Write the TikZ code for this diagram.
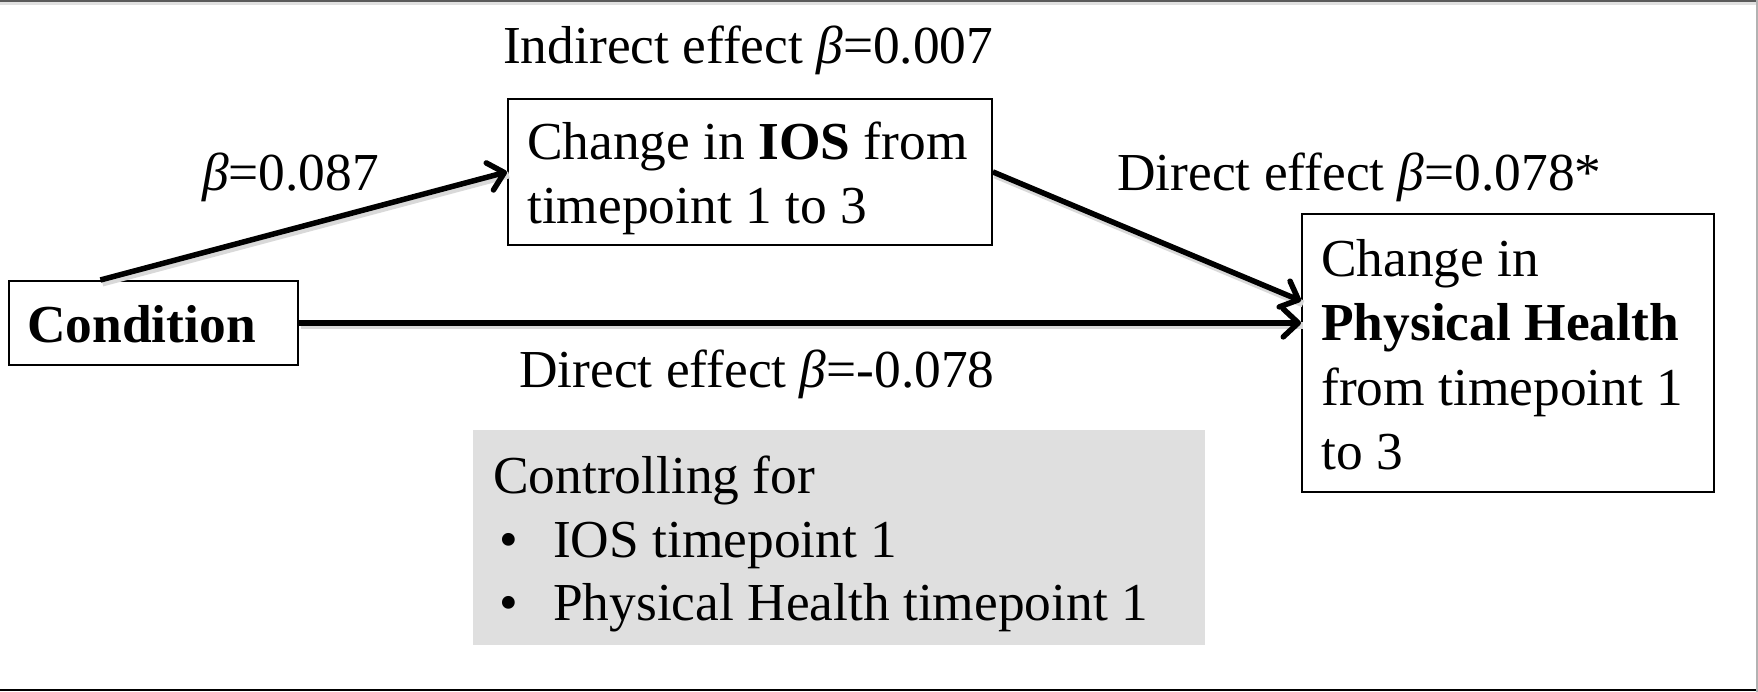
\documentclass[tikz,border=0pt]{standalone}
\usepackage{fontspec}
\setmainfont{Liberation Serif}
\usetikzlibrary{arrows.meta}
\definecolor{panelgray}{RGB}{223,223,223}
\definecolor{rulegray}{RGB}{90,90,90}
\begin{document}
\begin{tikzpicture}[x=1pt,y=-1pt,
  box/.style={draw=black, line width=1.8pt, fill=white, inner sep=0pt},
  txt/.style={anchor=base west, inner sep=0pt, font=\fontsize{53.4}{64}\selectfont},
  arr/.style={line width=5.5pt, -{Straight Barb[length=15pt,width=28pt,round]},
    preaction={draw=black!15, line width=7pt, -, transform canvas={shift={(2pt,-3pt)}}}}]
  \useasboundingbox (0,0) rectangle (1758,692);
  \fill[white] (0,0) rectangle (1758,692);
  % frame rules
  \draw[rulegray, line width=2pt] (0,1) -- (1758,1);
  \draw[black!12, line width=3pt] (0,4) -- (1758,4);
  \draw[black, line width=2pt] (0,690) -- (1758,690);
  \draw[black!30, line width=1.5pt] (1757,0) -- (1757,692);

  % boxes
  \node[box, anchor=north west, minimum width=289pt, minimum height=84pt] (cond) at (8,280) {};
  \node[box, anchor=north west, minimum width=484pt, minimum height=146pt] (ios) at (507,98) {};
  \node[box, anchor=north west, minimum width=412pt, minimum height=278pt] (ph) at (1301,213) {};
  \node[fill=panelgray, inner sep=0pt, anchor=north west, minimum width=732pt, minimum height=215pt] (ctrl) at (473,430) {};

  % box texts
  \node[txt] (condtxt) at (27,342) {\textbf{Condition}};
  \node[txt] (iosa) at (527,160) {Change in \textbf{IOS} from};
  \node[txt] (iosb) at (527,224) {timepoint 1 to 3};
  \node[txt] (pha) at (1321,277) {Change in};
  \node[txt] (phb) at (1321,341) {\textbf{Physical Health}};
  \node[txt] (phc) at (1321,405) {from timepoint 1};
  \node[txt] (phd) at (1321,469) {to 3};
  \node[txt] (ctla) at (493,493) {Controlling for};
  \node[txt] (ctlb1) at (499,557) {•};
  \node[txt] (ctlb) at (553,557) {IOS timepoint 1};
  \node[txt] (ctlc1) at (499,620) {•};
  \node[txt] (ctlc) at (553,620) {Physical Health timepoint 1};

  % path labels
  \node[txt] (ind) at (503,64) {Indirect effect \textit{β}=0.007};
  \node[txt] (pa) at (202,191) {\textit{β}=0.087};
  \node[txt] (pb) at (1117,191) {Direct effect \textit{β}=0.078*};
  \node[txt] (pc) at (519,387) {Direct effect \textit{β}=-0.078};

  % connectors
  \draw[arr] ([xshift=-53pt]cond.north) -- (ios.west);
  \draw[arr] (ios.east) -- ([yshift=52pt]ph.west);
  \draw[arr] (cond.east) -- (cond.east -| ph.west);
\end{tikzpicture}
\end{document}
